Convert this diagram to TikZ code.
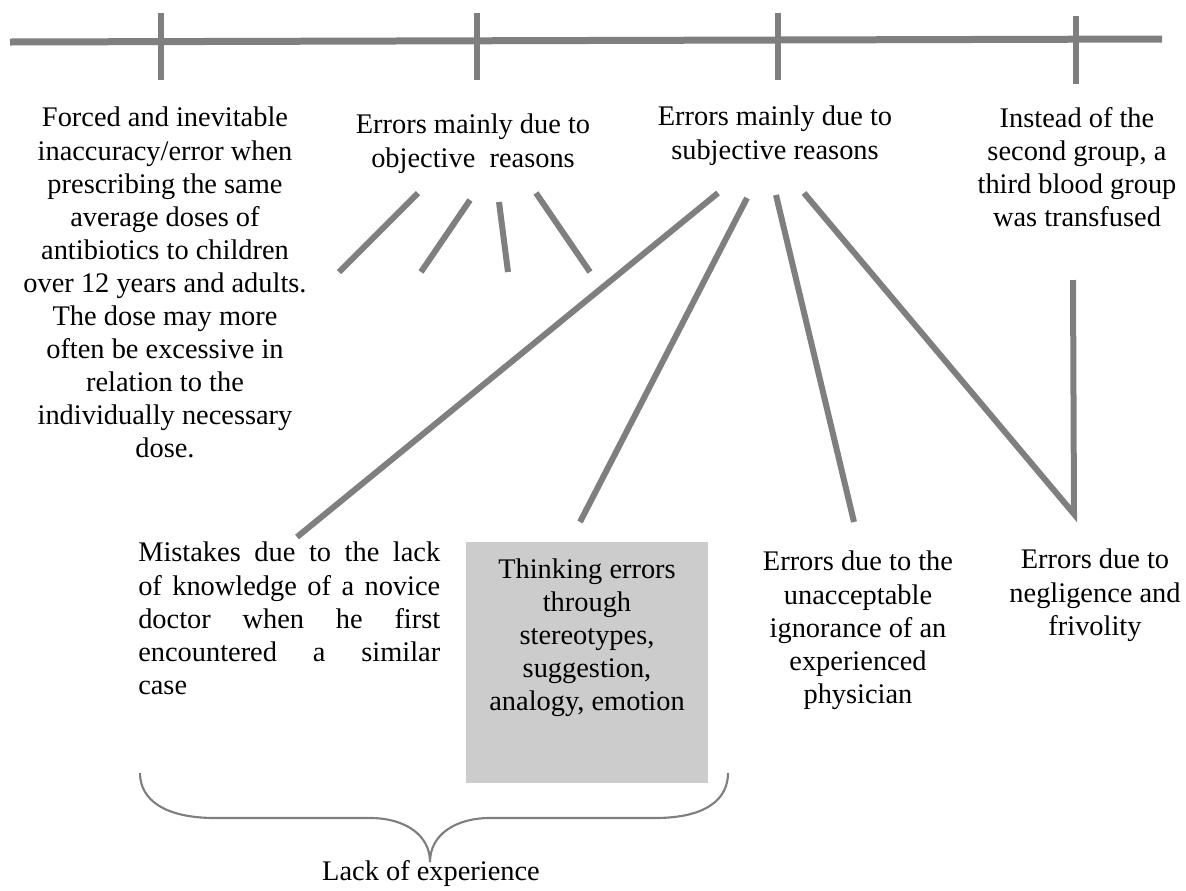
\documentclass[tikz,border=0pt]{standalone}
\usepackage{fontspec}
\setmainfont{Liberation Serif}
\usetikzlibrary{positioning}
\definecolor{linegray}{RGB}{127,127,127}
\definecolor{boxgray}{RGB}{204,204,204}

\begin{document}
\begin{tikzpicture}[x=0.75pt,y=-0.75pt,
	bar/.style={draw=linegray,line width=4.5pt},
	txt/.style={inner sep=0pt,align=center,font=\fontsize{21.3}{24.8}\selectfont},
	]
	\useasboundingbox (0,0) rectangle (1186,890);
	% time axis
	\coordinate (axisL) at (10,42);
	\coordinate (axisR) at (1162,39);
	\draw[linegray,line width=5.25pt] (axisL) -- (axisR);
	\foreach \x in {161,477,778}
	{
		\draw[bar] (\x,13) -- (\x,80);
	}
	\draw[bar] (1076,16) -- (1076,84);

	\node[txt,anchor=north] (forced) at (165,107) {Forced and inevitable\\inaccuracy/error when\\prescribing the same\\average doses of\\antibiotics to children\\over 12 years and adults.\\The dose may more\\often be excessive in\\relation to the\\individually necessary\\dose.};
	\node[txt,anchor=north] (objective) at (473,114) {Errors mainly due to\\objective~ reasons};
	\node[txt,anchor=north] (subjective) at (775,106) {Errors mainly due to\\subjective reasons};
	\node[txt,anchor=north] (transfused) at (1077,107) {Instead of the\\second group, a\\third blood group\\was transfused};

	% objective reasons
	\foreach \a/\b/\c/\d in {418/193/339/272, 470/200/421/272, 499/202/508/272, 536/193/590/272}
	{
		\draw[bar] (\a,\b) -- (\c,\d);
	}

	% subjective reasons
	\coordinate (s1) at (718,193);
	\coordinate (s2) at (747,198);
	\coordinate (s3) at (776,195);
	\coordinate (s4) at (804,193);
	\coordinate (novice) at (297,537);
	\coordinate (think) at (580,522);
	\coordinate (ignor) at (854,522);
	\coordinate (negl) at (1074,514);
	\coordinate (blood) at (1073,280);
	\draw[bar] (s1) -- (novice);
	\draw[bar] (s2) -- (think);
	\draw[bar] (s3) -- (ignor);
	\draw[bar] (s4) -- (negl) -- (blood);

	\node[txt,anchor=north west,text width=226.5pt,align=justify] (mistakes) at (138,542) {\hyphenpenalty=10000 \hbadness=10000 Mistakes due to the lack\linebreak of knowledge of a novice\linebreak doctor when he first\linebreak encountered a similar\linebreak case};
	\node[fill=boxgray,inner sep=0pt,minimum width=181.5pt,minimum height=180.75pt] (thinkbox) at (587,662.5) {};
	\node[txt,below=12.75pt of thinkbox.north] (thinking) {Thinking errors\\through\\stereotypes,\\suggestion,\\analogy, emotion};
	\node[txt,anchor=north] (ignorance) at (858,551) {Errors due to the\\unacceptable\\ignorance of an\\experienced\\physician};
	\node[txt,anchor=north] (negligence) at (1095,549) {Errors due to\\negligence and\\frivolity};

	% brace
	\draw[linegray,line width=1.6pt] (140,773) .. controls (140,800) and (165,818) .. (215,818) -- (370,818) .. controls (405,818) and (430,835) .. (430,862) .. controls (430,835) and (455,818) .. (490,818) -- (655,818) .. controls (705,818) and (728,800) .. (728,773);
	\node[txt,anchor=north] (lack) at (431,860) {Lack of experience};
\end{tikzpicture}
\end{document}
